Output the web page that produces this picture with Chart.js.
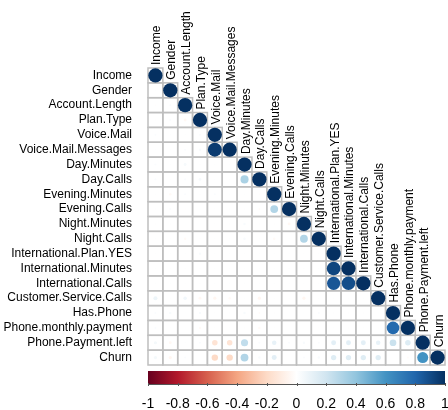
<!DOCTYPE html>
<html>
<head>
<meta charset="utf-8">
<script src="https://cdn.jsdelivr.net/npm/chart.js@4.4.1/dist/chart.umd.min.js"></script>
<style>
  html, body { margin: 0; padding: 0; background: #ffffff; }
  #wrap { width: 448px; height: 410px; }
</style>
</head>
<body>
<div id="wrap"><canvas id="corr" width="448" height="410"></canvas></div>
<script>
// Variables of the churn data set, in matrix order
const variables = [
  'Income', 'Gender', 'Account.Length', 'Plan.Type', 'Voice.Mail',
  'Voice.Mail.Messages', 'Day.Minutes', 'Day.Calls', 'Evening.Minutes',
  'Evening.Calls', 'Night.Minutes', 'Night.Calls', 'International.Plan.YES',
  'International.Minutes', 'International.Calls', 'Customer.Service.Calls',
  'Has.Phone', 'Phone.monthly.payment', 'Phone.Payment.left', 'Churn'
];

// Lower triangle of the correlation matrix (row i holds columns 0..i)
const corrLower = [
  [1],
  [0.01, 1],
  [-0.01, 0.02, 1],
  [0.01, 0.02, -0.04, 1],
  [0.02, 0.01, 0.01, 0.02, 1],
  [0.01, 0.01, 0.02, 0.03, 0.96, 1],
  [0.02, 0.01, 0.04, 0.01, 0.01, 0.01, 1],
  [0.02, 0.01, 0.02, 0.04, 0.01, 0.01, 0.32, 1],
  [0.01, -0.03, 0.02, 0.01, 0.02, 0.01, 0.01, -0.01, 1],
  [0.01, 0.02, -0.01, 0.01, 0.01, 0.01, 0.01, -0.02, 0.30, 1],
  [0.01, 0.01, 0.01, 0.01, 0.01, 0.01, 0.03, 0.01, 0.01, -0.04, 1],
  [0.01, 0.01, -0.03, 0.01, 0.01, 0.01, 0.03, 0.01, -0.03, 0.01, 0.30, 1],
  [0.01, 0.01, 0.01, 0.03, 0.01, 0.01, 0.01, 0.01, 0.01, 0.01, 0.01, 0.01, 1],
  [0.01, 0.01, 0.01, 0.01, 0.01, 0.01, 0.01, 0.01, 0.01, 0.01, 0.01, 0.01, 0.92, 1],
  [0.01, 0.01, 0.01, 0.01, 0.01, 0.01, 0.01, 0.01, 0.01, 0.01, 0.01, 0.01, 0.86, 0.89, 1],
  [0.08, 0.01, 0.06, -0.04, -0.05, -0.03, 0.01, -0.05, 0.01, 0.01, -0.05, 0.01, 0.01, 0.01, 0.01, 1],
  [0.02, 0.03, 0.01, 0.03, 0.01, 0.01, 0.03, -0.02, 0.01, 0.01, 0.01, 0.02, 0.01, 0.01, 0.01, 0.01, 1],
  [0.02, 0.01, 0.01, -0.03, 0.01, 0.01, 0.01, -0.03, 0.01, 0.01, 0.01, 0.01, 0.01, 0.01, 0.01, -0.01, 0.78, 1],
  [0.05, -0.04, 0.01, 0.02, -0.15, -0.15, 0.25, 0.02, 0.10, 0.02, 0.03, 0.02, 0.12, 0.12, 0.12, 0.10, 0.22, 0.15, 1],
  [0.05, -0.05, 0.02, 0.00, -0.20, -0.20, 0.30, 0.03, 0.12, 0.00, 0.02, 0.03, 0.14, 0.14, 0.14, 0.14, 0.00, -0.02, 0.60, 1]
];

// Colour legend
const colorbarTicks = [-1, -0.8, -0.6, -0.4, -0.2, 0, 0.2, 0.4, 0.6, 0.8, 1];
const colorbarLabels = ['-1', '-0.8', '-0.6', '-0.4', '-0.2', '0', '0.2', '0.4', '0.6', '0.8', '1'];

// Diverging red-white-blue palette, evenly spread over -1..1
const paletteStops = ['#67001F', '#B2182B', '#D6604D', '#F4A582', '#FDDBC7', '#FFFFFF',
                      '#D1E5F0', '#92C5DE', '#4393C3', '#2166AC', '#053061'];

const FONT = "'Liberation Sans', Arial, Helvetica, sans-serif";

function hexToRgb(h) {
  return [parseInt(h.slice(1, 3), 16), parseInt(h.slice(3, 5), 16), parseInt(h.slice(5, 7), 16)];
}
const paletteRgb = paletteStops.map(hexToRgb);

function corrColor(r) {
  const t = (Math.max(-1, Math.min(1, r)) + 1) / 2 * (paletteRgb.length - 1);
  const i = Math.min(paletteRgb.length - 2, Math.floor(t));
  const f = t - i;
  const a = paletteRgb[i], b = paletteRgb[i + 1];
  const c = a.map((v, k) => Math.round(v + (b[k] - v) * f));
  return `rgb(${c[0]},${c[1]},${c[2]})`;
}

const cells = [];
corrLower.forEach((row, i) => row.forEach((v, j) => cells.push({ x: j, y: i, v: v })));

function cellSize(chart) {
  const xs = chart.scales.x;
  return xs.getPixelForValue(1) - xs.getPixelForValue(0);
}

// Grey cell borders of the lower triangle
const gridPlugin = {
  id: 'triangleGrid',
  beforeDatasetsDraw(chart) {
    const { ctx, scales: { x, y } } = chart;
    ctx.save();
    ctx.strokeStyle = '#bebebe';
    ctx.lineWidth = 1.5;
    corrLower.forEach((row, i) => {
      row.forEach((v, j) => {
        const x0 = x.getPixelForValue(j - 0.5), x1 = x.getPixelForValue(j + 0.5);
        const y0 = y.getPixelForValue(i - 0.5), y1 = y.getPixelForValue(i + 0.5);
        ctx.strokeRect(x0, y0, x1 - x0, y1 - y0);
      });
    });
    ctx.restore();
  }
};

// Vertical variable names along the diagonal
const diagLabelPlugin = {
  id: 'diagLabels',
  afterDatasetsDraw(chart) {
    const { ctx, scales: { x, y } } = chart;
    ctx.save();
    ctx.fillStyle = '#000';
    ctx.font = `12px ${FONT}`;
    ctx.textAlign = 'left';
    ctx.textBaseline = 'alphabetic';
    variables.forEach((name, i) => {
      const px = x.getPixelForValue(i) + 5;
      const py = y.getPixelForValue(i - 0.5) - 3;
      ctx.save();
      ctx.translate(px, py);
      ctx.rotate(-Math.PI / 2);
      ctx.fillText(name, 0, 0);
      ctx.restore();
    });
    ctx.restore();
  }
};

// Gradient colour bar drawn inside the legend axis
const colorbarPlugin = {
  id: 'colorbar',
  afterDraw(chart) {
    const { ctx } = chart;
    const s = chart.scales.cb;
    const left = s.getPixelForValue(-1), right = s.getPixelForValue(1);
    const top = s.top + 6, bottom = s.top + 19;
    const grad = ctx.createLinearGradient(left, 0, right, 0);
    paletteStops.forEach((c, k) => grad.addColorStop(k / (paletteStops.length - 1), c));
    ctx.save();
    ctx.fillStyle = grad;
    ctx.fillRect(left, top, right - left, bottom - top);
    ctx.strokeStyle = '#555';
    ctx.lineWidth = 1;
    ctx.beginPath();
    ctx.moveTo(left, bottom + 0.5);
    ctx.lineTo(right, bottom + 0.5);
    colorbarTicks.forEach(v => {
      const px = Math.round(s.getPixelForValue(v)) + 0.5;
      ctx.moveTo(px, bottom - 1);
      ctx.lineTo(px, bottom + 2);
    });
    ctx.stroke();
    ctx.restore();
  }
};

new Chart(document.getElementById('corr'), {
  type: 'scatter',
  data: {
    datasets: [{
      data: cells,
      pointRadius: ctx => {
        const raw = ctx.raw;
        if (!raw) return 0;
        return Math.sqrt(Math.abs(raw.v)) * cellSize(ctx.chart) / 2 * 0.96;
      },
      pointHoverRadius: ctx => {
        const raw = ctx.raw;
        if (!raw) return 0;
        return Math.sqrt(Math.abs(raw.v)) * cellSize(ctx.chart) / 2 * 0.96;
      },
      pointBackgroundColor: ctx => ctx.raw ? corrColor(ctx.raw.v) : '#fff',
      pointBorderWidth: 0,
      pointHoverBorderWidth: 0
    }]
  },
  options: {
    responsive: false,
    animation: false,
    devicePixelRatio: 1,
    layout: { padding: { top: 68, right: 3, bottom: 0, left: 0 } },
    plugins: { legend: { display: false }, tooltip: { enabled: false } },
    events: [],
    scales: {
      x: { type: 'linear', min: -0.5, max: 19.5, display: false },
      y: {
        type: 'linear', min: -0.5, max: 19.5, reverse: true,
        grid: { display: false }, border: { display: false },
        afterBuildTicks: s => { s.ticks = variables.map((_, i) => ({ value: i })); },
        afterFit: s => { s.width = 148; s.paddingTop = 0; s.paddingBottom = 0; },
        ticks: {
          autoSkip: false, padding: 8, color: '#000',
          font: { family: FONT, size: 12 },
          callback: v => variables[v]
        }
      },
      cb: {
        type: 'linear', axis: 'x', position: 'bottom', min: -1, max: 1,
        grid: { drawOnChartArea: false, tickLength: 19, color: 'rgba(0,0,0,0)' },
        border: { display: false },
        afterBuildTicks: s => { s.ticks = colorbarTicks.map(v => ({ value: v })); },
        afterFit: s => { s.height = 45; s.paddingLeft = 0; s.paddingRight = 0; },
        ticks: {
          autoSkip: false, maxRotation: 0, padding: 12, color: '#000',
          font: { family: FONT, size: 14 },
          callback: (v, i) => colorbarLabels[i]
        }
      }
    }
  },
  plugins: [gridPlugin, diagLabelPlugin, colorbarPlugin]
});
</script>
</body>
</html>
